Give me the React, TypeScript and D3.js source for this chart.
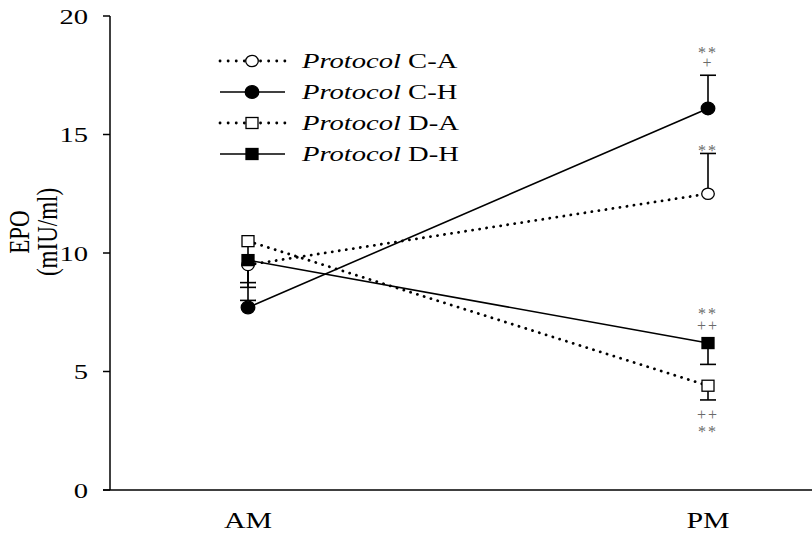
import React, { useEffect, useRef } from 'react';
import * as d3 from 'd3';

// time points on the x axis
const timePoints = ['AM', 'PM'];

// series names (legend order)
const seriesNames = ['C-A', 'C-H', 'D-A', 'D-H'];

// mean EPO values (mIU/ml) at AM, PM
const valuesCA = [9.5, 12.5];
const valuesCH = [7.7, 16.1];
const valuesDA = [10.5, 4.4];
const valuesDH = [9.7, 6.2];

// error bar ends (null = none drawn)
const errorsCA = [8.0, 14.2];
const errorsCH = [null, 17.5];
const errorsDA = [8.75, 3.8];
const errorsDH = [8.55, 5.3];

// significance labels at PM, top to bottom, with their anchor value
const annotationsPM = [
    { text: '**', value: 18.6 },
    { text: '+', value: 18.0 },
    { text: '**', value: 14.45 },
    { text: '**', value: 7.6 },
    { text: '++', value: 6.93 },
    { text: '++', value: 3.16 },
    { text: '**', value: 2.6 },
];

const yTicks = [0, 5, 10, 15, 20];

interface Series {
    name: string;
    values: number[];
    errors: (number | null)[];
    dotted: boolean;
    shape: 'circle' | 'square';
    filled: boolean;
}

const series: Series[] = [
    { name: seriesNames[0], values: valuesCA, errors: errorsCA, dotted: true, shape: 'circle', filled: false },
    { name: seriesNames[1], values: valuesCH, errors: errorsCH, dotted: false, shape: 'circle', filled: true },
    { name: seriesNames[2], values: valuesDA, errors: errorsDA, dotted: true, shape: 'square', filled: false },
    { name: seriesNames[3], values: valuesDH, errors: errorsDH, dotted: false, shape: 'square', filled: true },
];

const FONT = '"Liberation Serif", "Times New Roman", serif';
// the source figure is stretched sideways, so text is widened to match
const STRETCH = 1.3;

const App: React.FC = () => {
    const svgRef = useRef<SVGSVGElement>(null);

    useEffect(() => {
        if (!svgRef.current) return;
        document.body.style.margin = '0';

        const width = 812;
        const height = 533;

        const svg = d3.select(svgRef.current)
            .attr('width', width)
            .attr('height', height);
        svg.selectAll('*').remove();

        const x = d3.scalePoint<string>().domain(timePoints).range([248, 708]);
        const y = d3.scaleLinear().domain([0, 20]).range([490, 16]);
        const axisX = 110;

        // y axis
        svg.append('line')
            .attr('x1', axisX).attr('x2', axisX)
            .attr('y1', y(20)).attr('y2', y(0))
            .attr('stroke', '#000').attr('stroke-width', 1.5);

        svg.selectAll('.ytick')
            .data(yTicks)
            .enter()
            .append('line')
            .attr('x1', axisX - 7).attr('x2', axisX)
            .attr('y1', d => y(d)).attr('y2', d => y(d))
            .attr('stroke', '#000').attr('stroke-width', 1.5);

        svg.selectAll('.ylabel')
            .data(yTicks)
            .enter()
            .append('text')
            .attr('transform', d => `translate(88, ${y(d)}) scale(${STRETCH}, 1)`)
            .attr('dy', '0.35em')
            .attr('text-anchor', 'end')
            .attr('font-family', FONT)
            .attr('font-size', 22)
            .text(d => d);

        // x axis runs to the edge
        svg.append('line')
            .attr('x1', axisX - 7).attr('x2', width)
            .attr('y1', y(0)).attr('y2', y(0))
            .attr('stroke', '#000').attr('stroke-width', 1.5);

        svg.selectAll('.xlabel')
            .data(timePoints)
            .enter()
            .append('text')
            .attr('transform', d => `translate(${x(d)}, 528) scale(${STRETCH}, 1)`)
            .attr('text-anchor', 'middle')
            .attr('font-family', FONT)
            .attr('font-size', 23)
            .text(d => d);

        // y axis title, two rotated lines
        const title = svg.append('text')
            .attr('transform', `translate(38, 232) scale(${STRETCH}, 1) rotate(-90)`)
            .attr('text-anchor', 'middle')
            .attr('font-family', FONT)
            .attr('font-size', 23);
        title.append('tspan').attr('x', 0).attr('dy', '-0.3em').text('EPO');
        title.append('tspan').attr('x', 0).attr('dy', '0.95em').text('(mIU/ml)');

        const line = d3.line<number>()
            .x((_, i) => x(timePoints[i])!)
            .y(d => y(d));

        const dotDash = (sel: d3.Selection<any, any, any, any>, dotted: boolean, gap: number) => {
            if (dotted) {
                sel.attr('stroke-width', 2.8)
                    .attr('stroke-dasharray', `0.1 ${gap}`)
                    .attr('stroke-linecap', 'round');
            } else {
                sel.attr('stroke-width', 1.6);
            }
        };

        // series lines
        series.forEach(s => {
            const path = svg.append('path')
                .attr('d', line(s.values))
                .attr('fill', 'none')
                .attr('stroke', '#000');
            dotDash(path, s.dotted, 7);
        });

        // error bars
        series.forEach(s => {
            s.errors.forEach((e, i) => {
                if (e === null) return;
                const cx = x(timePoints[i])!;
                svg.append('line')
                    .attr('x1', cx).attr('x2', cx)
                    .attr('y1', y(s.values[i])).attr('y2', y(e))
                    .attr('stroke', '#000').attr('stroke-width', 1.6);
                svg.append('line')
                    .attr('x1', cx - 8).attr('x2', cx + 8)
                    .attr('y1', y(e)).attr('y2', y(e))
                    .attr('stroke', '#000').attr('stroke-width', 1.6);
            });
        });

        const drawMarker = (s: Series, cx: number, cy: number) => {
            if (s.shape === 'circle') {
                svg.append('ellipse')
                    .attr('cx', cx).attr('cy', cy)
                    .attr('rx', s.filled ? 6.8 : 6.3)
                    .attr('ry', s.filled ? 6.3 : 5.7)
                    .attr('fill', s.filled ? '#000' : '#fff')
                    .attr('stroke', '#000').attr('stroke-width', 1.3);
            } else {
                svg.append('rect')
                    .attr('x', cx - 6).attr('y', cy - 5.5)
                    .attr('width', 12).attr('height', 11)
                    .attr('fill', s.filled ? '#000' : '#fff')
                    .attr('stroke', '#000').attr('stroke-width', 1.3);
            }
        };

        // markers
        series.forEach(s => {
            s.values.forEach((v, i) => drawMarker(s, x(timePoints[i])!, y(v)));
        });

        // significance marks
        svg.selectAll('.annot')
            .data(annotationsPM)
            .enter()
            .append('text')
            .attr('transform', d => `translate(${x('PM')}, ${y(d.value)})`)
            .attr('dy', d => (d.text.startsWith('*') ? '0.55em' : '0.3em'))
            .attr('text-anchor', 'middle')
            .attr('font-family', FONT)
            .attr('font-size', d => (d.text.startsWith('*') ? 16 : 16))
            .attr('letter-spacing', 2)
            .attr('fill', '#6a6a6a')
            .text(d => d.text);

        // legend
        const legendRowY = d3.scalePoint<string>().domain(seriesNames).range([61, 154]);
        series.forEach(s => {
            const ly = legendRowY(s.name)!;
            const seg = svg.append('line')
                .attr('x1', 220).attr('x2', 285)
                .attr('y1', ly).attr('y2', ly)
                .attr('stroke', '#000');
            dotDash(seg, s.dotted, 8);
            drawMarker(s, 252, ly);
            const t = svg.append('text')
                .attr('transform', `translate(302, ${ly}) scale(${STRETCH}, 1)`)
                .attr('dy', '0.33em')
                .attr('font-family', FONT)
                .attr('font-size', 22);
            t.append('tspan').attr('font-style', 'italic').text('Protocol');
            t.append('tspan').text(' ' + s.name);
        });
    }, []);

    return <svg ref={svgRef}></svg>;
};

export default App;
